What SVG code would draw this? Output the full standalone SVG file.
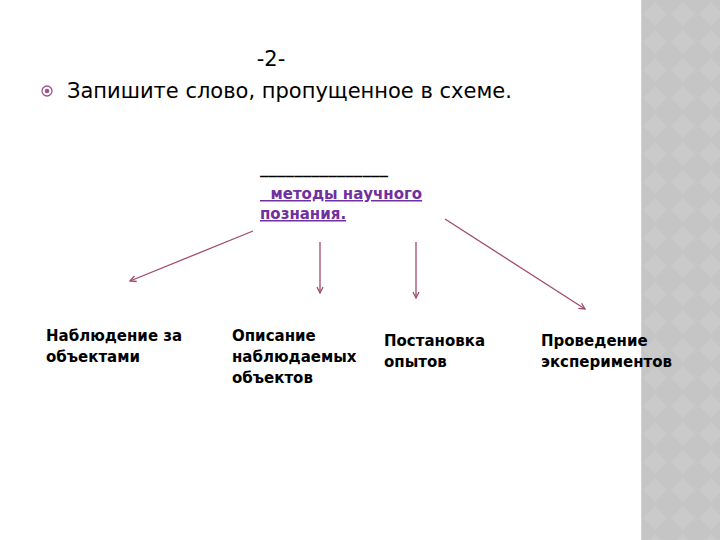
<svg xmlns="http://www.w3.org/2000/svg" width="720" height="540" viewBox="0 0 720 540">
<style>
.t{font-family:"DejaVu Sans","Liberation Sans",sans-serif;fill:#000}
.h{font-size:21px}
.lbl{font-size:15px;font-weight:bold}
.lnk{font-size:15px;font-weight:bold;fill:#7030a0;text-decoration:underline}
.c{stroke:#a04a6e;stroke-width:1.3;fill:none;marker-end:url(#ah)}
</style>
<defs>
<marker id="ah" markerWidth="8" markerHeight="8" refX="7" refY="4" orient="auto" markerUnits="userSpaceOnUse">
<path d="M1,1 L7,4 L1,7" fill="none" stroke="#a04a6e" stroke-width="1.3"/>
</marker>
<pattern id="dia" width="28" height="28" patternUnits="userSpaceOnUse" x="641" y="0">
<rect width="28" height="28" fill="#c5c5c5"/>
<path d="M14,2 L26,14 L14,26 L2,14 Z" fill="#cacaca"/>
</pattern>
</defs>
<rect width="720" height="540" fill="#fff"/>
<g id="panel">
<rect x="641" y="0" width="79" height="540" fill="url(#dia)"/>
<line x1="641.5" y1="0" x2="641.5" y2="540" stroke="#d0d0d0"/>
</g>
<g id="header">
<text class="t h" x="271" y="66" text-anchor="middle">-2-</text>
<circle cx="47" cy="91" r="5" fill="none" stroke="#a0508a" stroke-width="1.3"/>
<circle cx="47" cy="91" r="2.3" fill="#a0508a"/>
<text class="t h" x="67" y="98">Запишите слово, пропущенное в схеме.</text>
</g>
<g id="center">
<text class="t" x="260" y="174" font-size="15" font-weight="bold" fill="#222" textLength="128" lengthAdjust="spacingAndGlyphs">_______________</text>
<text class="t lnk" x="260" y="199" xml:space="preserve">  методы научного</text>
<text class="t lnk" x="260" y="219">познания.</text>
</g>
<g id="connectors">
<line class="c" x1="253" y1="231" x2="130" y2="281"/>
<line class="c" x1="320" y1="242" x2="320" y2="293"/>
<line class="c" x1="416" y1="242" x2="416" y2="298"/>
<line class="c" x1="445" y1="219" x2="585" y2="309"/>
</g>
<g id="n1"><text class="t lbl" x="46" y="341">Наблюдение за<tspan x="46" dy="21">объектами</tspan></text></g>
<g id="n2"><text class="t lbl" x="232" y="341">Описание<tspan x="232" dy="21">наблюдаемых</tspan><tspan x="232" dy="21">объектов</tspan></text></g>
<g id="n3"><text class="t lbl" x="384" y="346">Постановка<tspan x="384" dy="21">опытов</tspan></text></g>
<g id="n4"><text class="t lbl" x="541" y="346">Проведение<tspan x="541" dy="21">экспериментов</tspan></text></g>
</svg>
